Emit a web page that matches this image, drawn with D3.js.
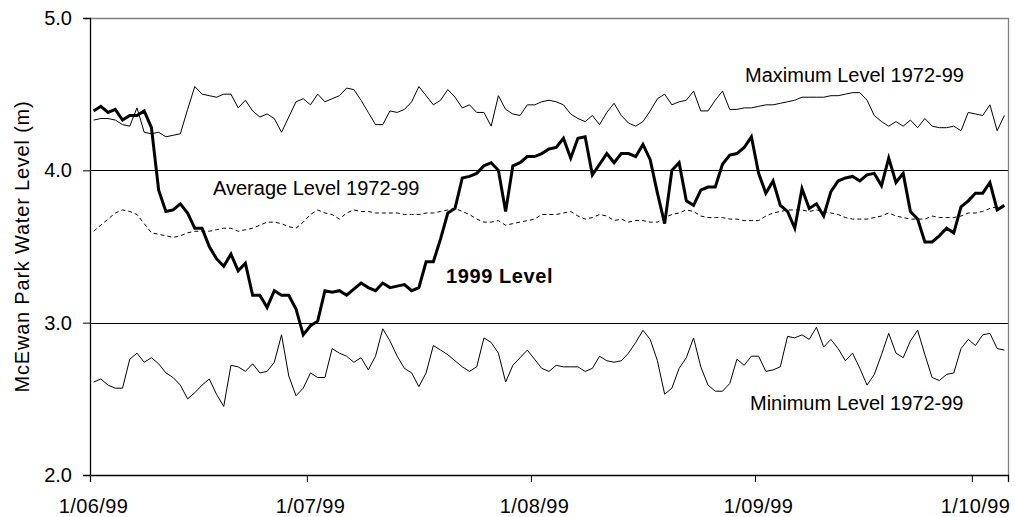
<!DOCTYPE html>
<html>
<head>
<meta charset="utf-8">
<script src="https://cdn.jsdelivr.net/npm/d3@7"></script>
<style>
  body { margin: 0; background: #fff; }
  svg { display: block; font-family: "Liberation Sans", Arial, sans-serif; }
</style>
</head>
<body>
<svg width="1015" height="517"></svg>
<script>
// daily readings, 1 June 1999 onwards
const startDate = new Date(Date.UTC(1999, 5, 1));

const level1999 = [
  4.39, 4.42, 4.38, 4.40, 4.33, 4.36, 4.36, 4.39, 4.28, 3.87,
  3.73, 3.74, 3.78, 3.72, 3.62, 3.62, 3.50, 3.42, 3.37, 3.45,
  3.34, 3.39, 3.18, 3.18, 3.10, 3.21, 3.18, 3.18, 3.09, 2.92,
  2.98, 3.01, 3.21, 3.20, 3.21, 3.18, 3.22, 3.26, 3.23, 3.21,
  3.26, 3.23, 3.24, 3.25, 3.21, 3.23, 3.40, 3.40, 3.55, 3.72,
  3.75, 3.95, 3.96, 3.98, 4.03, 4.05, 4.00, 3.73, 4.03, 4.05,
  4.09, 4.09, 4.11, 4.14, 4.15, 4.21, 4.08, 4.21, 4.22, 3.97,
  4.04, 4.11, 4.05, 4.11, 4.11, 4.09, 4.17, 4.07, 3.85, 3.65,
  4.00, 4.05, 3.80, 3.77, 3.87, 3.89, 3.89, 4.04, 4.10, 4.11,
  4.15, 4.22, 3.98, 3.85, 3.93, 3.77, 3.73, 3.62, 3.88, 3.75,
  3.78, 3.70, 3.86, 3.93, 3.95, 3.96, 3.93, 3.97, 3.98, 3.90,
  4.08, 3.92, 3.98, 3.73, 3.68, 3.53, 3.53, 3.57, 3.62, 3.59,
  3.76, 3.80, 3.85, 3.85, 3.92, 3.74, 3.77
];

const maxLevel = [
  4.33, 4.34, 4.34, 4.33, 4.30, 4.29, 4.41, 4.25, 4.24, 4.25,
  4.22, 4.23, 4.24, 4.40, 4.55, 4.50, 4.49, 4.48, 4.50, 4.50,
  4.41, 4.46, 4.39, 4.35, 4.37, 4.34, 4.25, 4.35, 4.45, 4.47,
  4.43, 4.50, 4.45, 4.47, 4.49, 4.54, 4.53, 4.46, 4.38, 4.30,
  4.30, 4.39, 4.38, 4.40, 4.45, 4.55, 4.49, 4.43, 4.46, 4.53,
  4.48, 4.41, 4.43, 4.38, 4.38, 4.29, 4.49, 4.40, 4.37, 4.36,
  4.43, 4.43, 4.45, 4.46, 4.45, 4.43, 4.37, 4.34, 4.32, 4.36,
  4.30, 4.38, 4.44, 4.36, 4.31, 4.29, 4.32, 4.39, 4.47, 4.50,
  4.43, 4.45, 4.46, 4.52, 4.39, 4.39, 4.46, 4.52, 4.40, 4.40,
  4.41, 4.41, 4.42, 4.43, 4.43, 4.44, 4.45, 4.46, 4.48, 4.48,
  4.48, 4.48, 4.49, 4.49, 4.50, 4.51, 4.51, 4.46, 4.36, 4.32,
  4.29, 4.32, 4.29, 4.33, 4.28, 4.34, 4.29, 4.28, 4.28, 4.29,
  4.26, 4.38, 4.37, 4.36, 4.43, 4.26, 4.36
];

const avgLevel = [
  3.60, 3.64, 3.68, 3.72, 3.74, 3.73, 3.71, 3.65, 3.59, 3.58,
  3.57, 3.56, 3.57, 3.59, 3.60, 3.60, 3.60, 3.61, 3.62, 3.62,
  3.60, 3.61, 3.62, 3.64, 3.66, 3.66, 3.65, 3.63, 3.62, 3.66,
  3.71, 3.74, 3.72, 3.71, 3.68, 3.72, 3.74, 3.73, 3.73, 3.72,
  3.72, 3.72, 3.72, 3.71, 3.71, 3.71, 3.72, 3.72, 3.73, 3.74,
  3.75, 3.73, 3.71, 3.68, 3.66, 3.66, 3.67, 3.64, 3.65, 3.66,
  3.67, 3.68, 3.71, 3.71, 3.71, 3.72, 3.73, 3.70, 3.68, 3.69,
  3.71, 3.70, 3.67, 3.68, 3.66, 3.67, 3.67, 3.66, 3.66, 3.69,
  3.71, 3.72, 3.74, 3.73, 3.70, 3.69, 3.69, 3.69, 3.68, 3.68,
  3.67, 3.67, 3.67, 3.70, 3.72, 3.73, 3.74, 3.74, 3.74, 3.73,
  3.74, 3.73, 3.72, 3.71, 3.69, 3.68, 3.68, 3.68, 3.69, 3.70,
  3.72, 3.70, 3.69, 3.68, 3.68, 3.68, 3.70, 3.69, 3.69, 3.69,
  3.70, 3.72, 3.72, 3.73, 3.75, 3.76, 3.76
];

const minLevel = [
  2.61, 2.63, 2.59, 2.57, 2.57, 2.76, 2.80, 2.74, 2.77, 2.73,
  2.67, 2.64, 2.59, 2.50, 2.54, 2.59, 2.63, 2.53, 2.45, 2.72,
  2.71, 2.68, 2.73, 2.67, 2.68, 2.74, 2.92, 2.65, 2.52, 2.57,
  2.67, 2.64, 2.64, 2.83, 2.80, 2.78, 2.74, 2.77, 2.69, 2.78,
  2.96, 2.88, 2.78, 2.70, 2.67, 2.58, 2.67, 2.85, 2.82, 2.79,
  2.75, 2.71, 2.68, 2.71, 2.90, 2.87, 2.80, 2.61, 2.72, 2.77,
  2.82, 2.76, 2.70, 2.68, 2.72, 2.71, 2.71, 2.71, 2.68, 2.70,
  2.78, 2.75, 2.74, 2.75, 2.80, 2.87, 2.95, 2.89, 2.75, 2.53,
  2.57, 2.70, 2.77, 2.90, 2.71, 2.59, 2.55, 2.55, 2.60, 2.76,
  2.72, 2.78, 2.78, 2.68, 2.69, 2.71, 2.91, 2.90, 2.92, 2.89,
  2.97, 2.84, 2.89, 2.83, 2.75, 2.80, 2.70, 2.59, 2.66, 2.79,
  2.93, 2.80, 2.77, 2.88, 2.95, 2.79, 2.64, 2.62, 2.66, 2.67,
  2.83, 2.89, 2.85, 2.92, 2.93, 2.83, 2.82
];

const yTicks = [2, 3, 4, 5];
const gridValues = [3, 4];
const monthTicks = [
  new Date(Date.UTC(1999, 5, 1)), new Date(Date.UTC(1999, 6, 1)),
  new Date(Date.UTC(1999, 7, 1)), new Date(Date.UTC(1999, 8, 1)),
  new Date(Date.UTC(1999, 9, 1))
];

const svg = d3.select("svg");
const plotLeft = 90, plotRight = 1008, plotTop = 18, plotBottom = 475;

const endDate = d3.utcDay.offset(startDate, level1999.length);
const x = d3.scaleUtc().domain([startDate, endDate]).range([plotLeft, plotRight]);
const y = d3.scaleLinear().domain([2, 5]).range([plotBottom, plotTop]);

// each reading sits in the middle of its day
const dayMid = i => d3.utcHour.offset(d3.utcDay.offset(startDate, i), 12);

// gridlines
svg.append("g")
  .selectAll("line")
  .data(gridValues)
  .enter().append("line")
  .attr("x1", plotLeft).attr("x2", plotRight)
  .attr("y1", d => Math.round(y(d)) + 0.5)
  .attr("y2", d => Math.round(y(d)) + 0.5)
  .attr("stroke", "#000")
  .attr("stroke-width", 1);

// plot border (top / right in grey)
svg.append("path")
  .attr("d", `M${plotLeft},${plotTop + 0.5}H${plotRight + 0.5}V${plotBottom}`)
  .attr("fill", "none")
  .attr("stroke", "#808080")
  .attr("stroke-width", 1.3);

// y axis
const yAxis = svg.append("g")
  .attr("transform", `translate(${plotLeft},0)`)
  .call(d3.axisLeft(y).tickValues(yTicks).tickFormat(d3.format(".1f")).tickSize(7).tickPadding(11));
yAxis.select(".domain").attr("stroke", "#000").attr("stroke-width", 1.3);
yAxis.selectAll(".tick line").attr("stroke", "#000");
yAxis.selectAll("text")
  .attr("font-size", 20)
  .attr("font-family", "Liberation Sans, Arial, sans-serif")
  .attr("fill", "#000");

// x axis
const xAxis = svg.append("g")
  .attr("transform", `translate(0,${plotBottom})`)
  .call(d3.axisBottom(x).tickValues(monthTicks).tickSize(7).tickFormat(() => ""));
xAxis.select(".domain").attr("stroke", "#000").attr("stroke-width", 1.3);
xAxis.selectAll(".tick line").attr("stroke", "#000");

const fmt = d3.utcFormat("%-d/%m/%y");
svg.append("g")
  .selectAll("text")
  .data(monthTicks)
  .enter().append("text")
  .attr("x", d => x(d3.utcHour.offset(d, 12)))
  .attr("y", 513)
  .attr("text-anchor", "middle")
  .attr("font-size", 20)
  .attr("letter-spacing", 0.4)
  .text(d => fmt(d));

// series
const line = d3.line()
  .x((d, i) => x(dayMid(i)))
  .y(d => y(d));

svg.append("path")
  .datum(maxLevel)
  .attr("d", line)
  .attr("fill", "none")
  .attr("stroke", "#000")
  .attr("stroke-width", 1);

svg.append("path")
  .datum(minLevel)
  .attr("d", line)
  .attr("fill", "none")
  .attr("stroke", "#000")
  .attr("stroke-width", 1);

svg.append("path")
  .datum(avgLevel)
  .attr("d", line)
  .attr("fill", "none")
  .attr("stroke", "#000")
  .attr("stroke-width", 1)
  .attr("stroke-dasharray", "4,3");

svg.append("path")
  .datum(level1999)
  .attr("d", line)
  .attr("fill", "none")
  .attr("stroke", "#000")
  .attr("stroke-width", 3)
  .attr("stroke-linejoin", "miter");

// labels
const labels = [
  { text: "Maximum Level 1972-99", x: 745, y: 81.5, bold: false },
  { text: "Average Level 1972-99", x: 213, y: 194.5, bold: false },
  { text: "1999 Level", x: 446, y: 282.5, bold: true },
  { text: "Minimum Level 1972-99", x: 750, y: 410, bold: false }
];
svg.append("g")
  .selectAll("text")
  .data(labels)
  .enter().append("text")
  .attr("x", d => d.x)
  .attr("y", d => d.y)
  .attr("font-size", 20)
  .attr("font-weight", d => d.bold ? "bold" : "normal")
  .attr("letter-spacing", d => d.bold ? 0.6 : 0)
  .text(d => d.text);

svg.append("text")
  .attr("transform", `translate(29,${(plotTop + plotBottom) / 2}) rotate(-90)`)
  .attr("text-anchor", "middle")
  .attr("font-size", 20)
  .attr("letter-spacing", 0.8)
  .text("McEwan Park Water Level (m)");
</script>
</body>
</html>
